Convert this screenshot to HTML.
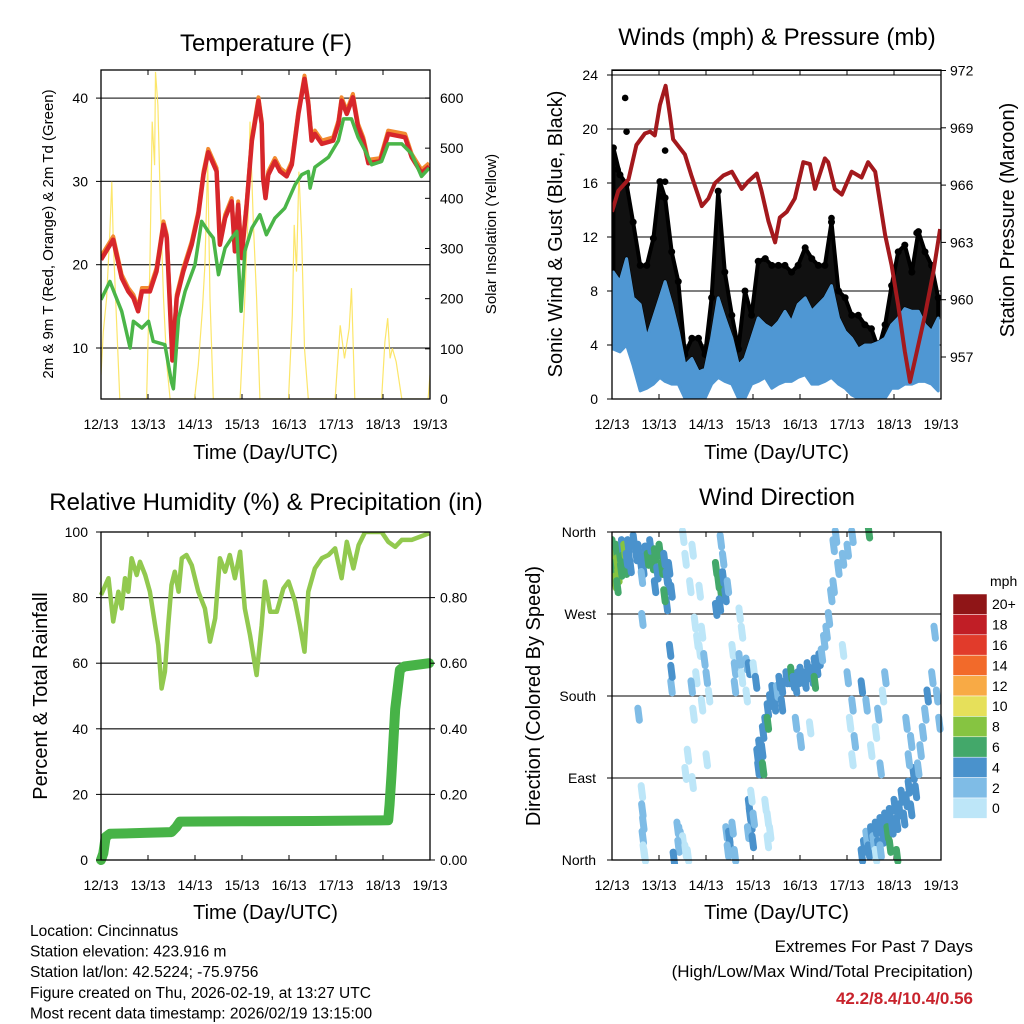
<!DOCTYPE html>
<html><head><meta charset="utf-8"><style>
html,body{margin:0;padding:0;background:#fff;}
svg{display:block;font-family:"Liberation Sans",sans-serif;}
</style></head><body>
<svg id="chart" width="1024" height="1024" viewBox="0 0 1024 1024" xmlns="http://www.w3.org/2000/svg"></svg>
<script>
// ---------- DATA ----------
const dayLabels = ["12/13","13/13","14/13","15/13","16/13","17/13","18/13","19/13"];
const tempT = [0,0.26,0.44,0.58,0.69,0.79,0.87,1.04,1.18,1.33,1.40,1.52,1.61,1.75,1.93,2.07,2.18,2.28,2.46,2.53,2.64,2.78,2.85,2.92,2.99,3.10,3.21,3.35,3.42,3.45,3.50,3.56,3.70,3.81,3.95,4.06,4.20,4.33,4.41,4.48,4.55,4.70,4.94,5.05,5.12,5.23,5.36,5.47,5.58,5.69,5.94,6.11,6.47,6.61,6.82,6.98];
const tempV = [20.6,23.0,18.4,16.8,16.0,14.4,16.8,16.8,19.2,24.8,23.2,8.5,16.0,19.2,22.4,26.0,30.8,33.5,31.2,22.4,25.6,27.6,21.6,27.2,20.8,27.2,34.9,39.7,36.9,30.4,28.0,30.8,32.4,31.2,30.6,32.0,38.1,42.3,39.3,34.9,35.7,34.5,34.9,36.9,39.7,38.1,40.1,36.5,34.9,32.2,32.4,35.7,35.3,32.9,31.0,31.8];
const dewT = [0,0.19,0.30,0.44,0.62,0.69,0.87,1.01,1.11,1.36,1.50,1.54,1.65,1.79,2.00,2.14,2.28,2.39,2.50,2.64,2.78,2.89,2.98,3.06,3.21,3.38,3.52,3.70,3.91,4.13,4.27,4.41,4.45,4.55,4.84,5.05,5.16,5.33,5.47,5.62,5.76,5.97,6.11,6.40,6.61,6.82,6.98];
const dewV = [15.8,18.0,16.4,14.4,10.0,13.2,12.4,13.2,10.8,10.4,5.9,5.1,13.6,16.8,20.0,25.2,24.0,23.2,18.8,22.0,23.2,24.0,14.4,21.6,24.4,26.0,23.6,25.6,26.8,29.6,30.8,31.2,29.2,31.7,32.9,34.9,37.5,37.5,35.3,33.7,32.0,32.4,34.5,34.5,33.3,30.6,31.6];
const solarT = [0,0.05,0.12,0.19,0.23,0.26,0.31,0.40,0.97,1.04,1.09,1.14,1.16,1.21,1.26,1.33,1.40,1.47,1.99,2.07,2.16,2.21,2.27,2.32,2.39,2.96,3.06,3.13,3.17,3.24,3.31,3.38,3.99,4.07,4.11,4.16,4.21,4.27,4.33,4.41,4.98,5.09,5.18,5.28,5.33,5.40,5.97,6.04,6.10,6.15,6.20,6.28,6.40,6.96,7.0];
const solarV = [48,134,201,334,433,320,201,0,0,267,553,466,652,586,400,201,68,0,0,68,181,267,473,201,0,0,201,367,553,353,201,0,0,167,347,254,453,320,101,0,0,147,81,141,221,0,0,114,161,81,101,74,0,0,48];
const presT = [0,0.135,0.35,0.52,0.70,0.81,0.91,1.02,1.14,1.23,1.30,1.55,1.69,1.91,2.05,2.19,2.37,2.55,2.76,2.90,3.08,3.18,3.33,3.47,3.57,3.72,3.89,4.07,4.21,4.32,4.53,4.60,4.74,4.89,5.10,5.31,5.45,5.60,5.81,5.95,6.09,6.23,6.34,6.45,6.66,6.84,6.98];
const presV = [964.6,965.7,966.3,968.1,968.7,968.8,968.6,970.2,971.2,969.7,968.4,967.6,966.5,964.9,965.3,966.1,966.5,966.7,965.8,966.2,966.6,965.7,964.1,963.0,964.3,964.6,965.3,967.2,967.1,965.8,967.4,967.2,965.8,965.5,966.7,966.4,967.2,966.7,963.4,961.8,959.7,957.3,955.7,956.9,959.2,961.5,963.7];
const windT = [0.03,0.17,0.31,0.45,0.60,0.74,0.88,1.02,1.13,1.27,1.41,1.55,1.70,1.84,1.98,2.12,2.26,2.40,2.55,2.69,2.83,2.97,3.11,3.26,3.40,3.54,3.68,3.82,3.96,4.11,4.25,4.39,4.53,4.67,4.82,4.96,5.10,5.24,5.38,5.52,5.67,5.81,5.95,6.09,6.23,6.38,6.52,6.66,6.80,6.94];
const windHi = [9.4,8.7,10.4,7.5,7.0,4.5,6.0,7.5,8.7,7.0,5.0,2.5,3.0,2.0,2.2,4.5,7.5,6.0,4.5,2.5,3.0,4.5,6.0,5.5,5.2,5.7,6.5,5.7,7.0,7.5,6.5,7.0,7.5,8.4,6.0,5.0,4.5,3.7,4.0,4.0,4.2,4.5,5.5,6.0,6.7,6.5,6.5,5.5,5.0,6.0];
const windLo = [3.7,3.5,4.0,2.5,0.6,0.8,1.1,1.6,1.3,1.1,1.1,0.05,0.05,0.05,0.05,1.1,1.6,1.3,1.1,0.05,0.05,1.1,1.3,1.6,0.8,1.1,1.3,1.3,1.6,1.8,1.1,1.1,1.3,1.6,1.1,0.8,0.3,0.05,0.05,0.05,0.05,0.05,0.8,0.8,1.1,1.1,1.3,1.3,1.1,0.6];
const gustHi = [18.6,16.6,15.9,13.1,9.9,9.9,11.9,16.1,14.9,10.9,8.7,3.3,4.5,4.5,3.3,7.5,15.4,9.4,6.2,3.7,8.0,6.2,10.2,10.4,9.9,9.9,9.9,9.4,9.9,11.2,10.4,9.9,9.9,13.1,8.0,7.5,6.2,6.2,5.5,5.2,3.7,5.5,8.4,10.9,11.4,9.4,12.4,10.9,9.9,7.5];
const gustOutT = [0.28,0.31,1.13,1.13,4.67,6.48,0.12,1.05,2.27];
const gustOutV = [22.3,19.8,18.4,16.1,13.4,12.3,17.0,15.0,13.5];
const rhT = [0,0.16,0.26,0.37,0.44,0.51,0.58,0.65,0.76,0.83,0.94,1.04,1.15,1.22,1.29,1.36,1.43,1.50,1.57,1.65,1.72,1.82,1.93,2.07,2.21,2.32,2.43,2.53,2.64,2.74,2.85,2.96,3.06,3.17,3.31,3.42,3.49,3.60,3.74,3.88,3.99,4.13,4.23,4.33,4.41,4.55,4.70,4.84,4.98,5.12,5.23,5.37,5.48,5.62,5.97,6.11,6.26,6.40,6.61,6.98];
const rhV = [80.8,85.9,72.7,81.8,76.7,85.9,81.8,92.0,86.9,90.9,86.9,81.8,71.6,65.5,52.3,57.4,71.6,83.8,87.9,81.8,92.0,93.0,89.9,81.8,76.7,66.6,73.7,92.0,87.9,93.0,85.9,94.0,76.7,68.6,56.4,71.6,84.9,75.7,75.7,82.8,84.9,78.8,71.6,63.5,81.8,88.9,92.0,93.0,95.0,85.9,97.0,88.9,96.0,100,100,97.0,95.5,97.6,97.6,99.6];
const prT = [0,0.05,0.10,0.19,1.0,1.5,1.6,1.68,3.0,4.5,6.11,6.14,6.18,6.26,6.36,6.45,6.98];
const prV = [0.0,0.02,0.07,0.08,0.083,0.085,0.10,0.117,0.118,0.119,0.121,0.17,0.26,0.46,0.58,0.59,0.60];
const dirT = [0.0,0.02,0.05,0.08,0.1,0.12,0.15,0.18,0.2,0.22,0.25,0.28,0.3,0.33,0.35,0.38,0.06,0.1,
0.45,0.5,0.55,0.6,0.65,0.7,0.75,0.8,0.85,0.9,0.95,1.0,1.05,1.1,1.15,1.2,1.25,1.15,0.62,0.9,1.1,1.2,
0.63,0.55,1.22,1.25,1.25,
1.5,1.55,1.65,1.7,1.75,1.8,1.85,1.9,1.95,1.78,1.68,1.72,1.9,2.0,2.05,1.85,1.6,1.7,2.0,1.55,
2.2,2.25,2.3,2.28,2.35,2.4,2.45,2.35,2.2,2.3,
2.55,2.6,2.7,2.75,2.85,2.9,2.75,2.6,2.85,2.7,3.0,3.05,
0.62,0.63,0.65,0.64,0.66,0.68,
1.38,1.42,1.45,1.5,1.4,1.55,1.6,1.3,
2.42,2.48,2.5,2.55,2.45,2.6,
2.9,2.92,2.95,2.88,2.98,3.0,2.95,
3.25,3.3,3.35,3.3,
3.08,3.1,3.12,3.15,3.18,3.2,3.25,3.3,3.3,3.2,3.35,3.4,3.45,3.5,
3.55,3.6,3.7,3.75,3.8,3.85,3.9,3.95,4.0,4.05,4.1,4.15,4.2,4.25,4.3,4.35,4.4,4.45,4.5,4.55,4.6,4.65,4.7,4.3,3.9,4.0,4.2,3.6,
4.7,4.75,4.8,4.9,5.0,5.1,4.9,5.0,5.1,5.15,5.1,5.05,5.3,5.4,5.45,
5.3,5.35,5.4,5.45,5.5,5.55,5.6,5.65,5.7,5.75,5.8,5.85,5.9,5.95,6.0,6.05,6.1,6.15,6.2,6.25,6.3,6.35,6.4,6.45,6.5,6.55,6.6,6.65,6.7,6.8,6.9,6.95,6.85,5.9,6.05,5.6,5.7,6.3,6.35,6.25,
5.5,5.6,5.65,5.7,5.75,5.8];
const dirV = [345,330,320,340,325,312,335,318,345,328,340,320,330,345,332,322,305,300,
350,335,340,325,320,338,330,345,325,335,315,340,320,330,310,300,295,280,310,300,290,320,
264,160,230,190,207,
355,330,300,340,260,240,230,250,220,200,190,160,170,200,180,295,115,85,110,95,
320,305,295,280,310,290,300,330,275,350,
230,210,220,200,215,210,250,190,180,270,210,195,
75,55,40,25,10,5,
35,30,25,20,15,10,5,2,
30,25,15,35,10,5,
60,50,40,30,20,45,70,
60,45,30,20,
115,100,125,110,120,140,150,165,150,100,175,185,170,185,
195,190,200,200,205,195,190,200,205,200,195,210,205,200,215,210,220,225,240,250,265,290,300,195,150,130,145,170,
345,355,320,330,340,355,230,200,170,130,110,150,190,170,360,
5,15,25,10,30,20,35,15,40,25,45,30,50,35,60,40,55,70,45,65,80,55,95,75,100,120,140,160,180,200,180,150,250,15,5,5,10,110,130,150,
120,140,160,100,180,200];
const dirS = [7,8,7,6,9,8,7,6,4,6,8,6,5,4,5,4,8,6,
4,4,5,4,4,5,6,5,6,7,5,7,6,5,4,4,4,5,3,4,6,4,
3,2,4,3,4,
1,1,1,1,1,0,0,1,2,1,2,0,1,2,1,1,0,0,1,0,
6,6,6,5,4,4,3,3,4,3,
1,2,2,1,3,4,0,2,1,1,1,4,
1,2,2,2,1,0,
2,2,2,1,2,1,0,4,
3,4,4,3,3,2,
4,4,4,3,4,3,1,
1,1,1,1,
4,4,4,4,5,4,4,4,6,6,4,4,4,3,
4,4,4,5,6,5,4,4,4,5,4,4,4,5,4,4,4,3,3,3,3,3,3,7,2,2,1,4,
3,3,3,2,3,3,1,2,2,2,1,1,4,3,6,
4,4,3,4,4,3,4,4,4,5,4,6,4,4,4,4,4,5,5,4,4,4,4,4,3,3,3,3,4,3,3,3,2,6,6,1,2,2,2,2,
1,1,2,2,1,2];
const binLabels = ["0","2","4","6","8","10","12","14","16","18","20+"];
const binColors = ["#bde6f8","#7fbce6","#4a92cc","#43a86a","#86c441","#e6e05a","#f8aa45","#f26a2a","#e13b2b","#c11e26","#8f1517"];

// ---------- HELPERS ----------
const NS="http://www.w3.org/2000/svg";
const svg=document.getElementById('chart');
function el(tag,attrs,parent){const e=document.createElementNS(NS,tag);for(const k in attrs)e.setAttribute(k,attrs[k]);(parent||svg).appendChild(e);return e;}
function txt(s,x,y,size,anchor,parent,extra){const e=el('text',Object.assign({x:x,y:y,'font-size':size,'text-anchor':anchor||'middle',fill:'#000'},extra||{}),parent);e.textContent=s;return e;}
function pathFrom(ts,vs,xf,yf){let d='';for(let i=0;i<ts.length;i++){d+=(i?'L':'M')+xf(ts[i]).toFixed(1)+','+yf(vs[i]).toFixed(1);}return d;}
function makeX(x0,x1){return t=>x0+t*(x1-x0)/7;}

function panelFrame(name,x0,y0,x1,y1,gridYs,labelY,titleY){
  const g=el('g',{});
  
  
  gridYs.forEach(y=>{const l=el('line',{x1:x0,x2:x1,y1:y,y2:y,stroke:'#333','stroke-width':1.3},g);
    });
  const xf=makeX(x0,x1);
  for(let i=0;i<8;i++){const x=xf(i);
    el('line',{x1:x,x2:x,y1:y1,y2:y1-5,stroke:'#000','stroke-width':1},g);
    el('line',{x1:x,x2:x,y1:y0,y2:y0+5,stroke:'#000','stroke-width':1},g);
    const t=txt(dayLabels[i],x,labelY,14,'middle',g);
    }
  const tt=txt('Time (Day/UTC)',(x0+x1)/2,titleY,20,'middle',g);
  
  return g;
}
function border(x0,y0,x1,y1){const r=el('rect',{x:x0,y:y0,width:x1-x0,height:y1-y0,fill:'none',stroke:'#000','stroke-width':1.3});
  }
function clip(id,x0,y0,x1,y1){const c=el('clipPath',{id:id});el('rect',{x:x0,y:y0,width:x1-x0,height:y1-y0},c);}

// ---------- PANEL 1: TEMPERATURE ----------
(function(){
  const x0=101,x1=430,y0=70,y1=399;const xf=makeX(x0,x1);
  const yT=v=>348-(v-10)*8.33, yS=v=>399-v*0.5017;
  clip('c1',x0,y0,x1,y1);
  const t=txt('Temperature (F)',266,51,24);
  panelFrame('temperature',x0,y0,x1,y1,[10,20,30,40].map(yT),429,459);
  const g=el('g',{'clip-path':'url(#c1)'});
  const s=el('path',{d:pathFrom(solarT,solarV,xf,yS),fill:'none',stroke:'#fce35a','stroke-width':1.2,opacity:0.9},g);
  
  const o=el('path',{d:pathFrom(tempT,tempV.map(v=>v+0.4),xf,yT),fill:'none',stroke:'#f28a30','stroke-width':4,'stroke-linejoin':'round'},g);
  
  const r=el('path',{d:pathFrom(tempT,tempV,xf,yT),fill:'none',stroke:'#d7262b','stroke-width':4.5,'stroke-linejoin':'round'},g);
  
  const d=el('path',{d:pathFrom(dewT,dewV,xf,yT),fill:'none',stroke:'#4ab548','stroke-width':3.5,'stroke-linejoin':'round'},g);
  
  border(x0,y0,x1,y1);
  [10,20,30,40].forEach(v=>{const l=txt(String(v),88,yT(v)+5,14,'end');
    el('line',{x1:x0-5,x2:x0,y1:yT(v),y2:yT(v),stroke:'#000'});});
  [0,100,200,300,400,500,600].forEach(v=>{const l=txt(String(v),440,yS(v)+5,14,'start');
    el('line',{x1:x1-5,x2:x1,y1:yS(v),y2:yS(v),stroke:'#000'});});
  const a=txt('2m & 9m T (Red, Orange) & 2m Td (Green)',0,0,15,'middle',null,{transform:'translate(53,234) rotate(-90)'});
  
  const b=txt('Solar Insolation (Yellow)',0,0,15,'middle',null,{transform:'translate(496,234) rotate(-90)'});
  
})();

// ---------- PANEL 2: WINDS ----------
(function(){
  const x0=612,x1=941,y0=70,y1=399;const xf=makeX(x0,x1);
  const yW=v=>399-v*13.5, yP=p=>357-(p-957)*19.1;
  clip('c2',x0,y0,x1,y1);
  const t=txt('Winds (mph) & Pressure (mb)',777,45,24);
  panelFrame('winds',x0,y0,x1,y1,[4,8,12,16,20,24].map(yW),429,459);
  const g=el('g',{'clip-path':'url(#c2)'});
  let d=pathFrom(windT,windHi,xf,yW)+'L'+pathFrom(windT.slice().reverse(),gustHi.slice().reverse(),xf,yW).slice(1)+'Z';
  const gb=el('path',{d:d,fill:'#111',stroke:'#000','stroke-width':4,'stroke-linejoin':'round'},g);
  
  for(let i=0;i<windT.length;i++){const c=el('circle',{cx:xf(windT[i]),cy:yW(gustHi[i]),r:3.5,fill:'#000'},g);
    }
  for(let i=0;i<gustOutT.length;i++){const c=el('circle',{cx:xf(gustOutT[i]),cy:yW(gustOutV[i]),r:3.3,fill:'#000'},g);
    }
  d=pathFrom(windT,windLo,xf,yW)+'L'+pathFrom(windT.slice().reverse(),windHi.slice().reverse(),xf,yW).slice(1)+'Z';
  const wb=el('path',{d:d,fill:'#4f97d3',stroke:'#4f97d3','stroke-width':3,'stroke-linejoin':'round'},g);
  
  const p=el('path',{d:pathFrom(presT,presV,xf,yP),fill:'none',stroke:'#a3191d','stroke-width':4,'stroke-linejoin':'round'},g);
  
  el('line',{x1:x0,x2:x1,y1:yP(972),y2:yP(972),stroke:'#000','stroke-width':1});
  border(x0,y0,x1,y1);
  [0,4,8,12,16,20,24].forEach(v=>{const l=txt(String(v),598,yW(v)+5,14,'end');
    el('line',{x1:x0-5,x2:x0,y1:yW(v),y2:yW(v),stroke:'#000'});});
  [957,960,963,966,969,972].forEach(v=>{const l=txt(String(v),950,yP(v)+5,14,'start');
    el('line',{x1:x1,x2:x1+5,y1:yP(v),y2:yP(v),stroke:'#000'});});
  const a=txt('Sonic Wind & Gust (Blue, Black)',0,0,20,'middle',null,{transform:'translate(562,234) rotate(-90)'});
  
  const b=txt('Station Pressure (Maroon)',0,0,20,'middle',null,{transform:'translate(1014,220) rotate(-90)'});
  
})();

// ---------- PANEL 3: RH & PRECIP ----------
(function(){
  const x0=101,x1=430,y0=532,y1=860;const xf=makeX(x0,x1);
  const yR=v=>860-v*3.28, yPr=v=>860-v*328;
  clip('c3',x0-6,y0,x1+6,y1+6);
  const t=txt('Relative Humidity (%) & Precipitation (in)',266,510,24);
  panelFrame('rh-precip',x0,y0,x1,y1,[20,40,60,80].map(yR),890,919);
  const g=el('g',{'clip-path':'url(#c3)'});
  const r=el('path',{d:pathFrom(rhT,rhV,xf,yR),fill:'none',stroke:'#92c94f','stroke-width':4.5,'stroke-linejoin':'round'},g);
  
  const p=el('path',{d:pathFrom(prT,prV,xf,yPr),fill:'none',stroke:'#47b347','stroke-width':10,'stroke-linejoin':'round','stroke-linecap':'round'},g);
  
  border(x0,y0,x1,y1);
  [0,20,40,60,80,100].forEach(v=>{const l=txt(String(v),88,yR(v)+5,14,'end');
    el('line',{x1:x0-5,x2:x0,y1:yR(v),y2:yR(v),stroke:'#000'});});
  [0,0.2,0.4,0.6,0.8].forEach(v=>{const l=txt(v.toFixed(2),440,yPr(v)+5,14,'start');
    el('line',{x1:x1,x2:x1+5,y1:yPr(v),y2:yPr(v),stroke:'#000'});});
  const a=txt('Percent & Total Rainfall',0,0,20,'middle',null,{transform:'translate(47,696) rotate(-90)'});
  
})();

// ---------- PANEL 4: WIND DIRECTION ----------
(function(){
  const x0=612,x1=941,y0=532,y1=860;const xf=makeX(x0,x1);
  const yD=d=>860-d*328/360;
  clip('c4',x0,y0-4,x1+4,y1+4);
  const t=txt('Wind Direction',777,505,24);
  panelFrame('wind-direction',x0,y0,x1,y1,[90,180,270].map(yD),890,919);
  const g=el('g',{'clip-path':'url(#c4)'});
  for(let i=0;i<dirT.length;i++){const b=Math.min(10,Math.floor(dirS[i]/2));
    const cx=xf(dirT[i]),cy=yD(dirV[i]);
    const c=el('line',{x1:cx,x2:cx+1.5,y1:cy-6,y2:cy+6,stroke:binColors[b],'stroke-width':7,'stroke-linecap':'round'},g);
    }
  border(x0,y0,x1,y1);
  const names=['North','East','South','West','North'];
  [0,90,180,270,360].forEach((v,i)=>{const l=txt(names[i],596,yD(v)+5,14,'end');
    el('line',{x1:x0-5,x2:x0,y1:yD(v),y2:yD(v),stroke:'#000'});});
  const a=txt('Direction (Colored By Speed)',0,0,20,'middle',null,{transform:'translate(540,696) rotate(-90)'});
  
  const cb=el('g',{});
  const top=594,h=20.4;
  for(let i=0;i<11;i++){const idx=10-i;
    const r=el('rect',{x:953,y:top+i*h,width:34,height:h,fill:binColors[idx],stroke:'#fff','stroke-width':0.5},cb);
    
    const l=txt(binLabels[idx],992,top+i*h+h/2+5,14,'start',cb);}
  const m=txt('mph',990,586,14,'start',cb);
})();

// ---------- FOOTER TEXT ----------
(function(){
  const info=["Location: Cincinnatus","Station elevation: 423.916 m","Station lat/lon: 42.5224; -75.9756","Figure created on Thu, 2026-02-19, at 13:27 UTC","Most recent data timestamp: 2026/02/19 13:15:00"];
  info.forEach((s,i)=>{const t=txt(s,30,936+i*20.6,15.5,'start');});
  const a=txt('Extremes For Past 7 Days',973,952,17,'end');
  const b=txt('(High/Low/Max Wind/Total Precipitation)',973,977,17,'end');
  const c=txt('42.2/8.4/10.4/0.56',973,1004,17,'end',null,{fill:'#c8232c','font-weight':'bold'});
})();
</script>
</body></html>
